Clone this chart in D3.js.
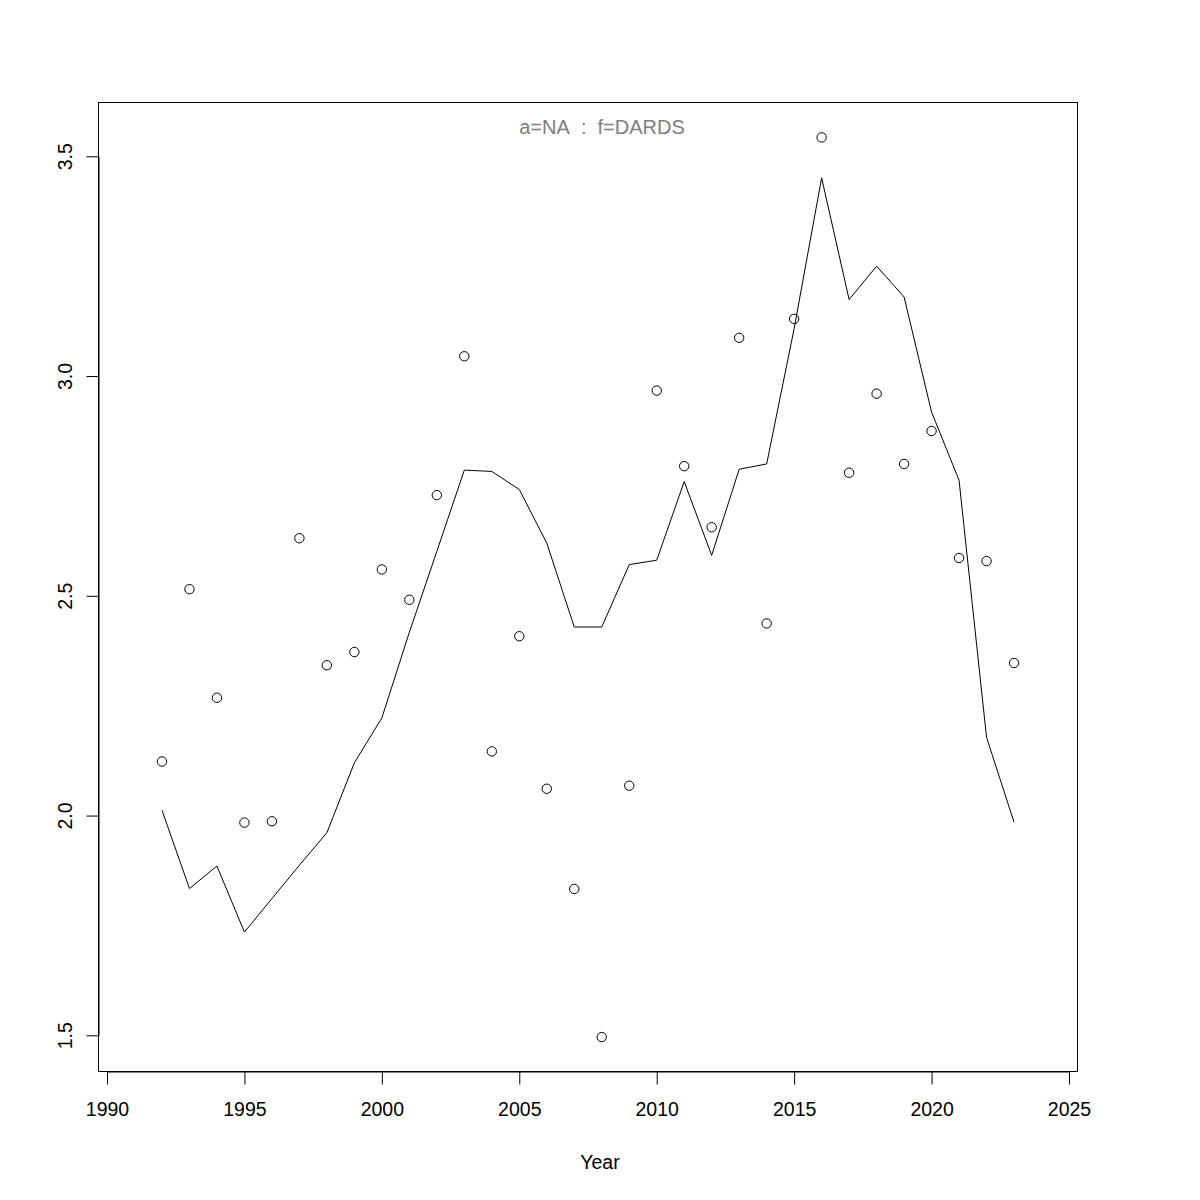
<!DOCTYPE html>
<html>
<head>
<meta charset="utf-8">
<script src="https://cdn.jsdelivr.net/npm/d3@7"></script>
<style>
  html, body { margin: 0; padding: 0; background: #fff; }
  text { font-family: "Liberation Sans", Arial, Helvetica, sans-serif; }
</style>
</head>
<body>
<svg id="chart" width="1200" height="1200"></svg>
<script>
const years = [1992,1993,1994,1995,1996,1997,1998,1999,2000,2001,2002,2003,2004,2005,2006,2007,2008,2009,2010,2011,2012,2013,2014,2015,2016,2017,2018,2019,2020,2021,2022,2023];
const observed = [2.123,2.515,2.268,1.984,1.987,2.631,2.342,2.372,2.560,2.491,2.729,3.045,2.146,2.408,2.061,1.833,1.496,2.068,2.967,2.795,2.656,3.087,2.437,3.130,3.543,2.780,2.960,2.800,2.875,2.586,2.579,2.347];
const fitted = [2.012,1.834,1.885,1.735,1.811,1.887,1.961,2.120,2.222,2.417,2.601,2.786,2.783,2.742,2.620,2.429,2.429,2.571,2.581,2.760,2.592,2.788,2.800,3.108,3.451,3.174,3.250,3.180,2.918,2.763,2.178,1.985];
const xTicks = [1990,1995,2000,2005,2010,2015,2020,2025];
const yTicks = [1.5,2.0,2.5,3.0,3.5];
const titleText = "a=NA  :  f=DARDS";
const xLabel = "Year";

const svg = d3.select("#chart");
const box = {left: 98.5, right: 1077.5, top: 102.5, bottom: 1071.5};

const x = d3.scaleLinear().domain([1990, 2025]).range([107, 1069]);
const y = d3.scaleLinear().domain([1.5, 3.5]).range([1035.3, 156.3]);

// plot box
svg.append("rect")
  .attr("x", box.left).attr("y", box.top)
  .attr("width", box.right - box.left).attr("height", box.bottom - box.top)
  .attr("fill", "none").attr("stroke", "#000").attr("stroke-width", 1);

// x axis
const xAxis = svg.append("g")
  .attr("transform", `translate(0,${box.bottom})`)
  .call(d3.axisBottom(x).tickValues(xTicks).tickFormat(d3.format("d")).tickSize(13).tickSizeOuter(0).tickPadding(18));
xAxis.selectAll("text").attr("font-size", 19.5).attr("fill", "#000")
  .attr("font-family", '"Liberation Sans", Arial, sans-serif');
xAxis.selectAll("line").attr("stroke", "#000");
xAxis.select(".domain").attr("stroke", "#000");

// y axis
const yAxis = svg.append("g")
  .attr("transform", `translate(${box.left},0)`)
  .call(d3.axisLeft(y).tickValues(yTicks).tickFormat(d3.format(".1f")).tickSize(12).tickSizeOuter(0));
yAxis.selectAll("line").attr("stroke", "#000");
yAxis.select(".domain").attr("stroke", "#000");
yAxis.selectAll("text")
  .attr("font-size", 19.5).attr("fill", "#000")
  .attr("font-family", '"Liberation Sans", Arial, sans-serif')
  .attr("text-anchor", "middle")
  .attr("dy", null)
  .attr("x", null)
  .attr("transform", "translate(-34,0) rotate(-90)")
  .attr("dominant-baseline", "central");

// fitted line
const line = d3.line().x((d, i) => x(years[i])).y(d => y(d));
svg.append("path")
  .datum(fitted)
  .attr("d", line)
  .attr("fill", "none")
  .attr("stroke", "#000")
  .attr("stroke-width", 1);

// observed points
svg.append("g").selectAll("circle")
  .data(observed)
  .join("circle")
  .attr("cx", (d, i) => x(years[i]))
  .attr("cy", d => y(d))
  .attr("r", 4.7)
  .attr("fill", "none")
  .attr("stroke", "#000")
  .attr("stroke-width", 1);

// title (non-breaking spaces keep the double gaps)
svg.append("text")
  .attr("x", 602).attr("y", 134)
  .attr("text-anchor", "middle")
  .attr("font-size", 20)
  .attr("fill", "#808080")
  .text(titleText.replace(/ /g, "\u00A0"));

// x label
svg.append("text")
  .attr("x", 600).attr("y", 1169)
  .attr("text-anchor", "middle")
  .attr("font-size", 19.5)
  .attr("fill", "#000")
  .text(xLabel);
</script>
</body>
</html>
